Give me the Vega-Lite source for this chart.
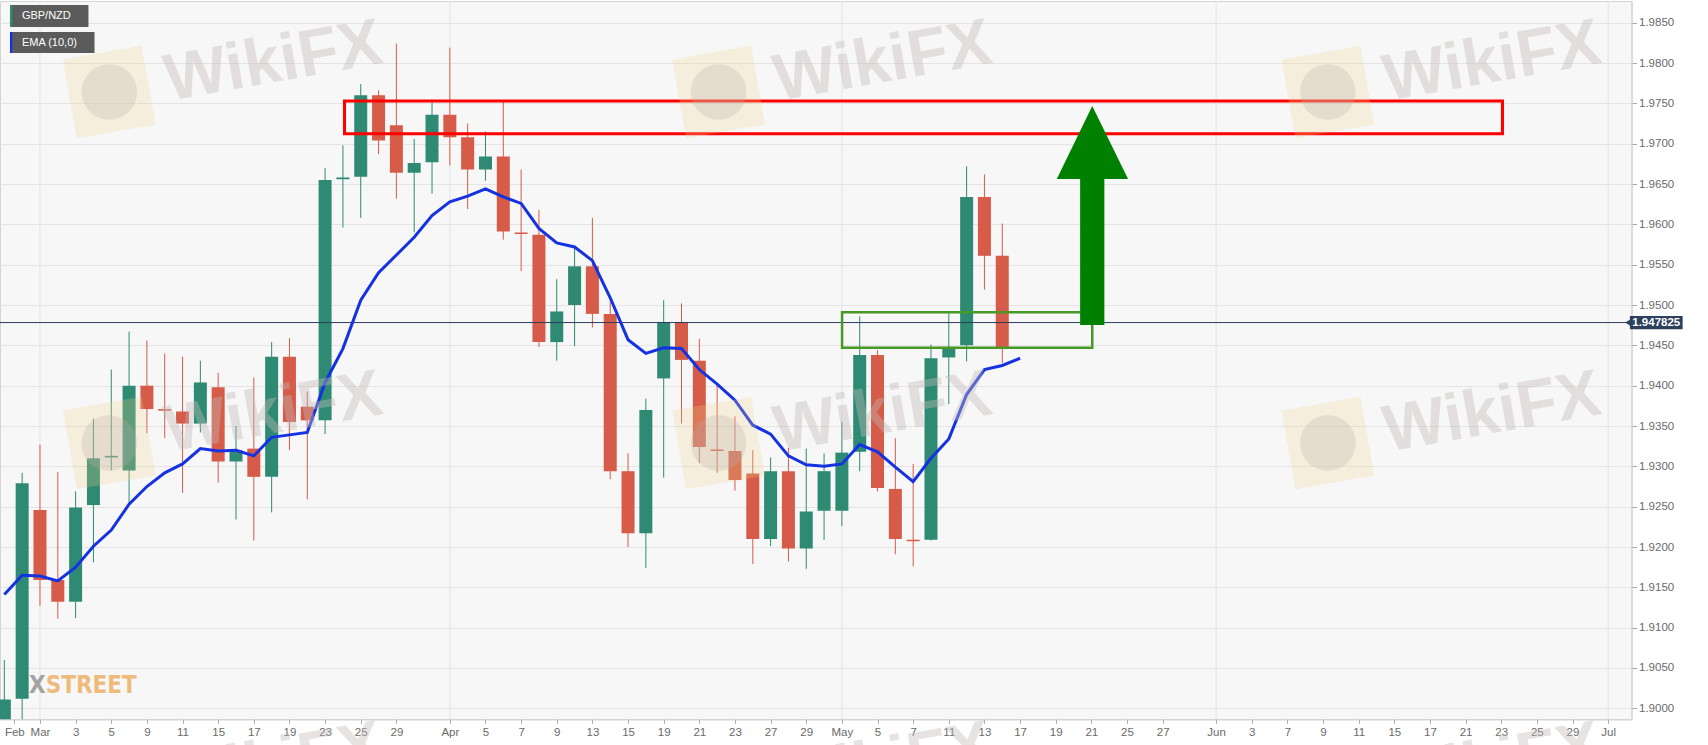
{
  "$schema": "https://vega.github.io/schema/vega-lite/v6.json",
  "description": "GBP/NZD daily candles with EMA(10), resistance box and breakout arrow.",
  "width": 1631.5,
  "height": 718.3,
  "autosize": {"type": "none"},
  "padding": {"left": 0, "top": 1, "right": 76.5, "bottom": 25.7},
  "background": "#ffffff",
  "config": {
    "view": {"fill": "#f7f7f7", "stroke": "#d4d4d4", "strokeWidth": 1},
    "axis": {
      "labelFont": "Liberation Sans",
      "labelFontSize": 11.5,
      "labelColor": "#6a6a6a",
      "domainColor": "#cfcfcf",
      "tickColor": "#a8a8a8",
      "gridColor": "#e4e4e4",
      "labelOverlap": false
    }
  },
  "datasets": {
    "candles": [
      {"d": 0, "o": 1.8962, "h": 1.9060, "l": 1.8950, "c": 1.9011},
      {"d": 1, "o": 1.9012, "h": 1.9292, "l": 1.8975, "c": 1.9279},
      {"d": 2, "o": 1.9246, "h": 1.9327, "l": 1.9127, "c": 1.9159},
      {"d": 3, "o": 1.9159, "h": 1.9293, "l": 1.9111, "c": 1.9132},
      {"d": 4, "o": 1.9132, "h": 1.9269, "l": 1.9112, "c": 1.9249},
      {"d": 5, "o": 1.9252, "h": 1.9359, "l": 1.9181, "c": 1.9310},
      {"d": 6, "o": 1.9311, "h": 1.9420, "l": 1.9295, "c": 1.9313},
      {"d": 7, "o": 1.9295, "h": 1.9467, "l": 1.9253, "c": 1.9400},
      {"d": 8, "o": 1.9400, "h": 1.9456, "l": 1.9341, "c": 1.9371},
      {"d": 9, "o": 1.9371, "h": 1.9440, "l": 1.9335, "c": 1.9369},
      {"d": 10, "o": 1.9368, "h": 1.9436, "l": 1.9267, "c": 1.9353},
      {"d": 11, "o": 1.9353, "h": 1.9431, "l": 1.9342, "c": 1.9404},
      {"d": 12, "o": 1.9398, "h": 1.9416, "l": 1.9280, "c": 1.9306},
      {"d": 13, "o": 1.9306, "h": 1.9350, "l": 1.9234, "c": 1.9320},
      {"d": 14, "o": 1.9322, "h": 1.9410, "l": 1.9208, "c": 1.9287},
      {"d": 15, "o": 1.9287, "h": 1.9454, "l": 1.9243, "c": 1.9436},
      {"d": 16, "o": 1.9436, "h": 1.9459, "l": 1.9320, "c": 1.9355},
      {"d": 17, "o": 1.9374, "h": 1.9393, "l": 1.9259, "c": 1.9357},
      {"d": 18, "o": 1.9357, "h": 1.9670, "l": 1.9340, "c": 1.9655},
      {"d": 19, "o": 1.9656, "h": 1.9698, "l": 1.9596, "c": 1.9658},
      {"d": 20, "o": 1.9659, "h": 1.9774, "l": 1.9608, "c": 1.9760},
      {"d": 21, "o": 1.9760, "h": 1.9766, "l": 1.9687, "c": 1.9704},
      {"d": 22, "o": 1.9723, "h": 1.9824, "l": 1.9632, "c": 1.9664},
      {"d": 23, "o": 1.9664, "h": 1.9706, "l": 1.9590, "c": 1.9676},
      {"d": 24, "o": 1.9677, "h": 1.9751, "l": 1.9638, "c": 1.9736},
      {"d": 25, "o": 1.9736, "h": 1.9819, "l": 1.9673, "c": 1.9708},
      {"d": 26, "o": 1.9708, "h": 1.9725, "l": 1.9619, "c": 1.9668},
      {"d": 27, "o": 1.9668, "h": 1.9715, "l": 1.9654, "c": 1.9684},
      {"d": 28, "o": 1.9684, "h": 1.9754, "l": 1.9581, "c": 1.9591},
      {"d": 29, "o": 1.9590, "h": 1.9668, "l": 1.9542, "c": 1.9588},
      {"d": 30, "o": 1.9587, "h": 1.9618, "l": 1.9448, "c": 1.9454},
      {"d": 31, "o": 1.9454, "h": 1.9532, "l": 1.9431, "c": 1.9492},
      {"d": 32, "o": 1.9500, "h": 1.9572, "l": 1.9449, "c": 1.9548},
      {"d": 33, "o": 1.9548, "h": 1.9608, "l": 1.9472, "c": 1.9489},
      {"d": 34, "o": 1.9489, "h": 1.9506, "l": 1.9284, "c": 1.9294},
      {"d": 35, "o": 1.9294, "h": 1.9316, "l": 1.9200, "c": 1.9217},
      {"d": 36, "o": 1.9217, "h": 1.9384, "l": 1.9174, "c": 1.9370},
      {"d": 37, "o": 1.9409, "h": 1.9506, "l": 1.9286, "c": 1.9479},
      {"d": 38, "o": 1.9479, "h": 1.9502, "l": 1.9353, "c": 1.9432},
      {"d": 39, "o": 1.9431, "h": 1.9458, "l": 1.9304, "c": 1.9324},
      {"d": 40, "o": 1.9321, "h": 1.9401, "l": 1.9292, "c": 1.9319},
      {"d": 41, "o": 1.9319, "h": 1.9362, "l": 1.9270, "c": 1.9283},
      {"d": 42, "o": 1.9291, "h": 1.9320, "l": 1.9179, "c": 1.9210},
      {"d": 43, "o": 1.9210, "h": 1.9311, "l": 1.9201, "c": 1.9294},
      {"d": 44, "o": 1.9294, "h": 1.9323, "l": 1.9182, "c": 1.9198},
      {"d": 45, "o": 1.9198, "h": 1.9322, "l": 1.9173, "c": 1.9244},
      {"d": 46, "o": 1.9245, "h": 1.9316, "l": 1.9209, "c": 1.9294},
      {"d": 47, "o": 1.9245, "h": 1.9355, "l": 1.9226, "c": 1.9317},
      {"d": 48, "o": 1.9318, "h": 1.9486, "l": 1.9294, "c": 1.9438},
      {"d": 49, "o": 1.9438, "h": 1.9444, "l": 1.9269, "c": 1.9273},
      {"d": 50, "o": 1.9272, "h": 1.9335, "l": 1.9191, "c": 1.9210},
      {"d": 51, "o": 1.9209, "h": 1.9303, "l": 1.9176, "c": 1.9207},
      {"d": 52, "o": 1.9209, "h": 1.9451, "l": 1.9208, "c": 1.9434},
      {"d": 53, "o": 1.9435, "h": 1.9490, "l": 1.9377, "c": 1.9448},
      {"d": 54, "o": 1.9450, "h": 1.9672, "l": 1.9430, "c": 1.9634},
      {"d": 55, "o": 1.9634, "h": 1.9662, "l": 1.9519, "c": 1.9561},
      {"d": 56, "o": 1.9561, "h": 1.9601, "l": 1.9428, "c": 1.9448}
    ],
    "ema": [
      {"d": 0, "e": 1.9141}, {"d": 1, "e": 1.9165}, {"d": 2, "e": 1.9164}, {"d": 3, "e": 1.9158},
      {"d": 4, "e": 1.9175}, {"d": 5, "e": 1.9201}, {"d": 6, "e": 1.9221}, {"d": 7, "e": 1.9253},
      {"d": 8, "e": 1.9275}, {"d": 9, "e": 1.9292}, {"d": 10, "e": 1.9303}, {"d": 11, "e": 1.9322},
      {"d": 12, "e": 1.9319}, {"d": 13, "e": 1.9320}, {"d": 14, "e": 1.9313}, {"d": 15, "e": 1.9336},
      {"d": 16, "e": 1.9339}, {"d": 17, "e": 1.9342}, {"d": 18, "e": 1.9404}, {"d": 19, "e": 1.9446},
      {"d": 20, "e": 1.9506}, {"d": 21, "e": 1.9540}, {"d": 22, "e": 1.9562}, {"d": 23, "e": 1.9584},
      {"d": 24, "e": 1.9611}, {"d": 25, "e": 1.9628}, {"d": 26, "e": 1.9635}, {"d": 27, "e": 1.9644},
      {"d": 28, "e": 1.9634}, {"d": 29, "e": 1.9626}, {"d": 30, "e": 1.9595}, {"d": 31, "e": 1.9577},
      {"d": 32, "e": 1.9572}, {"d": 33, "e": 1.9555}, {"d": 34, "e": 1.9509}, {"d": 35, "e": 1.9457},
      {"d": 36, "e": 1.9440}, {"d": 37, "e": 1.9447}, {"d": 38, "e": 1.9446}, {"d": 39, "e": 1.9420},
      {"d": 40, "e": 1.9402}, {"d": 41, "e": 1.9382}, {"d": 42, "e": 1.9351}, {"d": 43, "e": 1.9340},
      {"d": 44, "e": 1.9313}, {"d": 45, "e": 1.9302}, {"d": 46, "e": 1.9300}, {"d": 47, "e": 1.9303},
      {"d": 48, "e": 1.9327}, {"d": 49, "e": 1.9318}, {"d": 50, "e": 1.9299}, {"d": 51, "e": 1.9281},
      {"d": 52, "e": 1.9310}, {"d": 53, "e": 1.9334}, {"d": 54, "e": 1.9389}, {"d": 55, "e": 1.9420},
      {"d": 56, "e": 1.9425}, {"d": 57, "e": 1.9434}
    ],
    "monthStarts": [{"d": 2}, {"d": 25}, {"d": 47}, {"d": 68}, {"d": 90}],
    "wmText": [
      {"d": 15.10, "v": 1.98013}, {"d": 49.29, "v": 1.98013}, {"d": 83.48, "v": 1.98013},
      {"d": 15.10, "v": 1.93661}, {"d": 49.29, "v": 1.93661}, {"d": 83.48, "v": 1.93661},
      {"d": 15.10, "v": 1.89309}, {"d": 49.29, "v": 1.89309}, {"d": 83.48, "v": 1.89309}
    ],
    "wmLogo": [
      {"d": 5.89, "v": 1.97641}, {"d": 40.08, "v": 1.97641}, {"d": 74.27, "v": 1.97641},
      {"d": 5.89, "v": 1.93289}, {"d": 40.08, "v": 1.93289}, {"d": 74.27, "v": 1.93289}
    ],
    "legend": [
      {"k": "GBP/NZD", "d": 0.316, "d2": 4.72, "s2": 0.444, "t": 0.985, "v": 1.98719, "v2": 1.98447, "m": 1.98583},
      {"k": "EMA (10,0)", "d": 0.316, "d2": 5.06, "s2": 0.444, "t": 0.985, "v": 1.98385, "v2": 1.98124, "m": 1.98254}
    ]
  },
  "layer": [
    {
      "data": {"name": "monthStarts"},
      "mark": {"type": "rule", "color": "#e4e4e4", "strokeWidth": 1},
      "encoding": {
        "x": {
          "field": "d", "type": "quantitative", "title": null,
          "scale": {"domain": [0.037, 91.03], "nice": false, "zero": false},
          "axis": {
            "orient": "bottom", "grid": false, "tickSize": 4, "labelPadding": 3,
            "labelOverlap": false, "labelFlush": false, "tickCount": 200,
            "values": [0.56, 2, 4, 6, 8, 10, 12, 14, 16, 18, 20, 22, 25, 27, 29, 31, 33, 35, 37, 39, 41, 43, 45, 47, 49, 51, 53, 55, 57, 59, 61, 63, 65, 68, 70, 72, 74, 76, 78, 80, 82, 84, 86, 88, 90],
            "labelExpr": "['Feb','Mar','3','5','9','11','15','17','19','23','25','29','Apr','5','7','9','13','15','19','21','23','27','29','May','5','7','11','13','17','19','21','25','27','Jun','3','7','9','11','15','17','21','23','25','29','Jul'][indexof([0.56,2,4,6,8,10,12,14,16,18,20,22,25,27,29,31,33,35,37,39,41,43,45,47,49,51,53,55,57,59,61,63,65,68,70,72,74,76,78,80,82,84,86,88,90], datum.value)]"
          }
        }
      }
    },
    {
      "data": {"values": [{"d": 2.32, "v": 1.90277, "t": "FX"}]},
      "mark": {"type": "text", "align": "right", "baseline": "middle", "font": "DejaVu Sans Condensed, sans-serif", "fontSize": 24, "fontWeight": "bold", "color": "#a3a3a3", "clip": true},
      "encoding": {
        "x": {"field": "d", "type": "quantitative", "title": null},
        "y": {"field": "v", "type": "quantitative", "title": null},
        "text": {"field": "t"}
      }
    },
    {
      "data": {"values": [{"d": 2.32, "v": 1.90277, "t": "STREET"}]},
      "mark": {"type": "text", "align": "left", "baseline": "middle", "font": "DejaVu Sans Condensed, sans-serif", "fontSize": 24, "fontWeight": "bold", "color": "#efbb7c"},
      "encoding": {
        "x": {"field": "d", "type": "quantitative", "title": null},
        "y": {"field": "v", "type": "quantitative", "title": null},
        "text": {"field": "t"}
      }
    },
    {
      "data": {"name": "candles"},
      "mark": {"type": "rule", "strokeWidth": 1, "clip": true},
      "encoding": {
        "x": {"field": "d", "type": "quantitative", "title": null},
        "y": {
          "field": "l", "type": "quantitative", "title": null,
          "scale": {"domain": [1.89864, 1.98769], "nice": false, "zero": false},
          "axis": {
            "orient": "right", "grid": true, "tickSize": 5, "labelPadding": 2,
            "labelOverlap": false, "labelFlush": false, "format": ".4f", "tickCount": 200,
            "values": [1.9, 1.905, 1.91, 1.915, 1.92, 1.925, 1.93, 1.935, 1.94, 1.945, 1.95, 1.955, 1.96, 1.965, 1.97, 1.975, 1.98, 1.985]
          }
        },
        "y2": {"field": "h"},
        "color": {"condition": {"test": "datum.c >= datum.o", "value": "#2e8a73"}, "value": "#d65b49"}
      }
    },
    {
      "data": {"name": "candles"},
      "mark": {"type": "bar", "width": 13, "clip": true},
      "encoding": {
        "x": {"field": "d", "type": "quantitative", "title": null},
        "y": {"field": "o", "type": "quantitative", "title": null},
        "y2": {"field": "c"},
        "color": {"condition": {"test": "datum.c >= datum.o", "value": "#2e8a73"}, "value": "#d65b49"}
      }
    },
    {
      "data": {"values": [{"v": 1.947825}]},
      "mark": {"type": "rule", "color": "#2b3d5b", "strokeWidth": 1},
      "encoding": {
        "y": {"field": "v", "type": "quantitative", "title": null}
      }
    },
    {
      "data": {"name": "ema"},
      "mark": {"type": "line", "color": "#1432e2", "strokeWidth": 3, "clip": true},
      "encoding": {
        "x": {"field": "d", "type": "quantitative", "title": null},
        "y": {"field": "e", "type": "quantitative", "title": null}
      }
    },
    {
      "data": {"values": [{"d": 19.09, "d2": 84.07, "v": 1.97529, "v2": 1.97124}]},
      "mark": {"type": "rect", "filled": false, "stroke": "#ff0000", "strokeWidth": 3},
      "encoding": {
        "x": {"field": "d", "type": "quantitative", "title": null},
        "x2": {"field": "d2"},
        "y": {"field": "v", "type": "quantitative", "title": null},
        "y2": {"field": "v2"}
      }
    },
    {
      "data": {"values": [{"d": 47.01, "d2": 61.05, "v": 1.9491, "v2": 1.94471}]},
      "mark": {"type": "rect", "filled": false, "stroke": "#479824", "strokeWidth": 2.5},
      "encoding": {
        "x": {"field": "d", "type": "quantitative", "title": null},
        "x2": {"field": "d2"},
        "y": {"field": "v", "type": "quantitative", "title": null},
        "y2": {"field": "v2"}
      }
    },
    {
      "data": {"values": [{"d": 60.37, "d2": 61.73, "v": 1.94752, "v2": 1.9658}]},
      "mark": {"type": "rect", "color": "#008000"},
      "encoding": {
        "x": {"field": "d", "type": "quantitative", "title": null},
        "x2": {"field": "d2"},
        "y": {"field": "v", "type": "quantitative", "title": null},
        "y2": {"field": "v2"}
      }
    },
    {
      "data": {"values": [
        {"d": 59.06, "v": 1.96562, "v2": 1.96562},
        {"d": 61.05, "v": 1.97467, "v2": 1.96562},
        {"d": 63.06, "v": 1.96562, "v2": 1.96562}
      ]},
      "mark": {"type": "area", "color": "#008000", "opacity": 1},
      "encoding": {
        "x": {"field": "d", "type": "quantitative", "title": null},
        "y": {"field": "v", "type": "quantitative", "title": null},
        "y2": {"field": "v2"}
      }
    },
    {
      "data": {"name": "wmLogo"},
      "mark": {"type": "point", "shape": "square", "filled": true, "size": 6400, "angle": -10, "color": "#efd58a", "opacity": 0.25},
      "encoding": {
        "x": {"field": "d", "type": "quantitative", "title": null},
        "y": {"field": "v", "type": "quantitative", "title": null}
      }
    },
    {
      "data": {"name": "wmLogo"},
      "mark": {"type": "point", "shape": "circle", "filled": true, "size": 3100, "color": "#b9b1ae", "opacity": 0.28},
      "encoding": {
        "x": {"field": "d", "type": "quantitative", "title": null},
        "y": {"field": "v", "type": "quantitative", "title": null}
      }
    },
    {
      "data": {"name": "wmText"},
      "mark": {"type": "text", "text": "WikiFX", "align": "center", "baseline": "middle", "angle": -10, "font": "Liberation Sans", "fontSize": 66, "fontWeight": "bold", "color": "#c2bab7", "opacity": 0.4},
      "encoding": {
        "x": {"field": "d", "type": "quantitative", "title": null},
        "y": {"field": "v", "type": "quantitative", "title": null}
      }
    },
    {
      "data": {"name": "legend"},
      "mark": {"type": "rect", "color": "#5b5b5b"},
      "encoding": {
        "x": {"field": "d", "type": "quantitative", "title": null},
        "x2": {"field": "d2"},
        "y": {"field": "v", "type": "quantitative", "title": null},
        "y2": {"field": "v2"}
      }
    },
    {
      "data": {"name": "legend"},
      "mark": {"type": "rect"},
      "encoding": {
        "x": {"field": "d", "type": "quantitative", "title": null},
        "x2": {"field": "s2"},
        "y": {"field": "v", "type": "quantitative", "title": null},
        "y2": {"field": "v2"},
        "color": {"condition": {"test": "datum.k == 'GBP/NZD'", "value": "#2e8a73"}, "value": "#1432e2"}
      }
    },
    {
      "data": {"name": "legend"},
      "mark": {"type": "text", "align": "left", "baseline": "middle", "font": "Liberation Sans", "fontSize": 11, "color": "#ffffff"},
      "encoding": {
        "x": {"field": "t", "type": "quantitative", "title": null},
        "y": {"field": "m", "type": "quantitative", "title": null},
        "text": {"field": "k"}
      }
    },
    {
      "data": {"values": [{"d": 91.1, "v": 1.947825}]},
      "mark": {"type": "point", "shape": "triangle-left", "filled": true, "size": 40, "color": "#2d405e", "opacity": 1},
      "encoding": {
        "x": {"field": "d", "type": "quantitative", "title": null},
        "y": {"field": "v", "type": "quantitative", "title": null}
      }
    },
    {
      "data": {"values": [{"d": 91.22, "d2": 94.18, "v": 1.94864, "v2": 1.94699}]},
      "mark": {"type": "rect", "color": "#2d405e"},
      "encoding": {
        "x": {"field": "d", "type": "quantitative", "title": null},
        "x2": {"field": "d2"},
        "y": {"field": "v", "type": "quantitative", "title": null},
        "y2": {"field": "v2"}
      }
    },
    {
      "data": {"values": [{"d": 92.70, "v": 1.947825, "t": "1.947825"}]},
      "mark": {"type": "text", "align": "center", "baseline": "middle", "font": "Liberation Sans", "fontSize": 11.5, "fontWeight": "bold", "color": "#ffffff"},
      "encoding": {
        "x": {"field": "d", "type": "quantitative", "title": null},
        "y": {"field": "v", "type": "quantitative", "title": null},
        "text": {"field": "t"}
      }
    }
  ]
}
